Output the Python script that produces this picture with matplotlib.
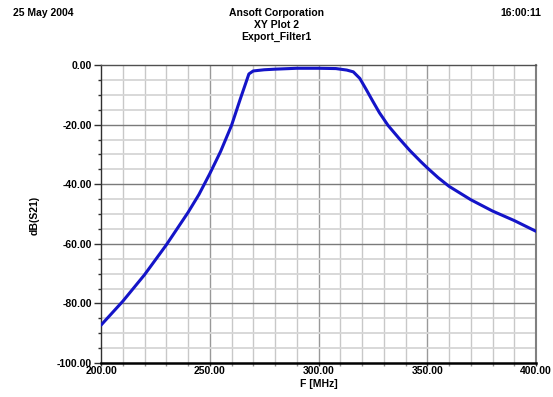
import numpy as np
import matplotlib.pyplot as plt
import matplotlib as mpl
from matplotlib.ticker import MultipleLocator, FormatStrFormatter

mpl.rcParams.update({
    'font.family': ['Liberation Sans', 'DejaVu Sans'],
    'font.size':   7.5,
    'font.weight': 'bold',
})

# ── Data (F in MHz, dB(S21)) ────────────────────────────────────────────────
freq_mhz = [200, 210, 220, 230, 240, 245, 250, 255, 260, 264, 268, 270,
            275, 280, 290, 300, 308, 310, 313, 316, 319, 322, 325, 328,
            332, 337, 342, 347, 350, 355, 360, 370, 380, 390, 400]
db_s21 = [-87.3, -79.3, -70.4, -60.4, -49.5, -43.5, -36.5, -29.0, -20.3,
          -11.5, -3.0, -2.0, -1.6, -1.4, -1.1, -1.1, -1.2, -1.4, -1.7,
          -2.3, -4.5, -8.3, -12.2, -16.0, -20.3, -24.6, -28.7, -32.4,
          -34.5, -37.8, -40.7, -45.2, -49.0, -52.2, -55.8]

title_lines = ['Ansoft Corporation', 'XY Plot 2', 'Export_Filter1']
date_txt = '25 May 2004'
time_txt = '16:00:11'

W, H = 553, 397
fig = plt.figure(figsize=(W / 100, H / 100), dpi=100)
ax = fig.add_axes([101 / W, 1 - 363 / H, 435 / W, 298 / H])

# grid: light every 10 MHz / 5 dB, darker every 50 MHz / 20 dB
for f in np.arange(210, 400, 10):
    major = (f % 50 == 0)
    ax.axvline(f, color='#999999' if major else '#c8c8c8',
               lw=1.0, zorder=1)
for d in np.arange(-95, 0, 5):
    major = (d % 20 == 0)
    ax.axhline(d, color='#7a7a7a' if major else '#d6d6d6',
               lw=1.0 if major else 1.3, zorder=1)

ax.plot(freq_mhz, db_s21, color='#1414c8', lw=2.2, zorder=3,
        solid_capstyle='round', solid_joinstyle='round')

ax.set_xlim(200, 400)
ax.set_ylim(-100, 0)
ax.xaxis.set_major_locator(MultipleLocator(50))
ax.xaxis.set_minor_locator(MultipleLocator(10))
ax.yaxis.set_major_locator(MultipleLocator(20))
ax.yaxis.set_minor_locator(MultipleLocator(5))
ax.xaxis.set_major_formatter(FormatStrFormatter('%.2f'))
ax.yaxis.set_major_formatter(FormatStrFormatter('%.2f'))

ax.tick_params(axis='y', which='major', length=5, width=1, pad=1.5,
               color='#303030', labelsize=7.5)
ax.tick_params(axis='y', which='minor', length=2, width=1, color='#303030')
ax.tick_params(axis='x', which='major', length=2, width=1, pad=0.5,
               color='#303030', labelsize=7.5)
ax.tick_params(axis='x', which='minor', length=2, width=1, color='#909090')
for lab in ax.get_xticklabels() + ax.get_yticklabels():
    lab.set_fontweight('bold')

ax.spines['top'].set_color('#505050')
ax.spines['top'].set_linewidth(1.0)
ax.spines['right'].set_color('#808080')
ax.spines['right'].set_linewidth(1.5)
ax.spines['left'].set_color('#303030')
ax.spines['left'].set_linewidth(1.0)
ax.spines['bottom'].set_color('black')
ax.spines['bottom'].set_linewidth(1.8)

ax.set_xlabel('F [MHz]', fontweight='bold', labelpad=2)
fig.text(35 / W, 1 - 215 / H, 'dB(S21)', rotation=90, ha='center',
         va='center', fontweight='bold')

for i, line in enumerate(title_lines):
    fig.text(0.5, 1 - (12.5 + 12 * i) / H, line, ha='center', va='center',
             fontweight='bold')
fig.text(13 / W, 1 - 12.5 / H, date_txt, ha='left', va='center',
         fontweight='bold')
fig.text(541 / W, 1 - 12.5 / H, time_txt, ha='right', va='center',
         fontweight='bold')

fig.savefig('out.png', dpi=100)
